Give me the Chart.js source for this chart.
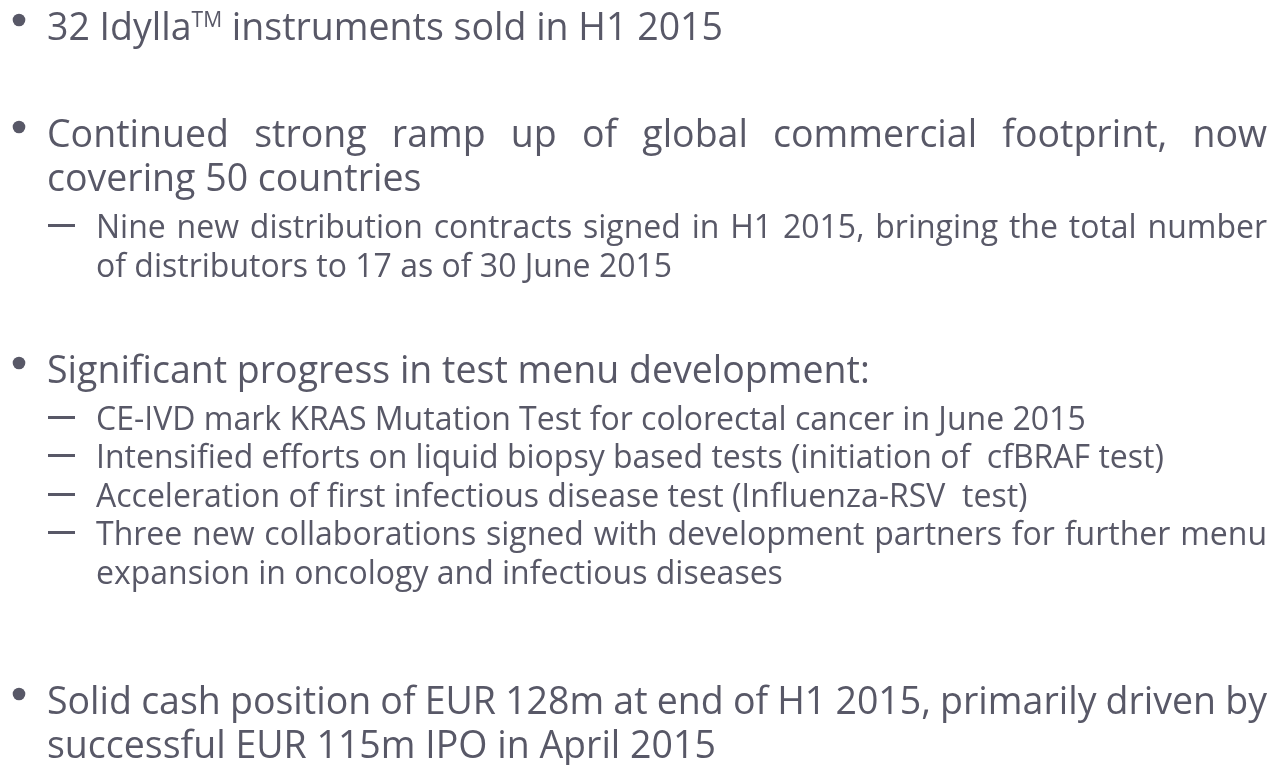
<!DOCTYPE html>
<html>
<head>
<meta charset="utf-8">
<script src="https://cdn.jsdelivr.net/npm/chart.js@4/dist/chart.umd.min.js"></script>
<style>
html,body{margin:0;padding:0;background:#fff;}
#c{display:block;}
</style>
</head>
<body>
<canvas id="c" width="1276" height="765"></canvas>
<script>
// Slide text content (level 1 = bullet, level 2 = dash), lines as wrapped in the reference
const bulletLevels = [1, 1, 2, 1, 2, 2, 2, 2, 1];
const bulletLines = [
  [["32 Idylla", "TM", " instruments sold in H1 2015"]],
  ["Continued strong ramp up of global commercial footprint, now", "covering 50 countries"],
  ["Nine new distribution contracts signed in H1 2015, bringing the total number", "of distributors to 17 as of 30 June 2015"],
  ["Significant progress in test menu development:"],
  ["CE-IVD mark KRAS Mutation Test for colorectal cancer in June 2015"],
  ["Intensified efforts on liquid biopsy based tests (initiation of  cfBRAF test)"],
  ["Acceleration of first infectious disease test (Influenza-RSV  test)"],
  ["Three new collaborations signed with development partners for further menu", "expansion in oncology and infectious diseases"],
  ["Solid cash position of EUR 128m at end of H1 2015, primarily driven by", "successful EUR 115m IPO in April 2015"]
];
const bulletBaselines = [40, 147, 238, 383, 430, 468, 507, 545, 714];

const COLOR = '#585867';
const FONT = '"Open Sans", "DejaVu Sans", sans-serif';
const MAIN = 37.5, SUB = 32, SUP = 21;
const MAIN_LH = 44, SUB_LH = 39;
const RIGHT = 1267;

function drawJustified(ctx, text, x, y, width, justify) {
  if (!justify) { ctx.fillText(text, x, y); return; }
  const words = text.split(' ').filter(w => w.length);
  const total = words.reduce((s, w) => s + ctx.measureText(w).width, 0);
  const gap = (width - total) / (words.length - 1);
  let cx = x;
  words.forEach(w => { ctx.fillText(w, cx, y); cx += ctx.measureText(w).width + gap; });
}

const textPlugin = {
  id: 'slideText',
  afterDraw(chart) {
    const ctx = chart.ctx;
    ctx.save();
    ctx.fillStyle = COLOR;
    ctx.strokeStyle = COLOR;
    ctx.textBaseline = 'alphabetic';
    bulletLines.forEach((lines, i) => {
      const lvl = bulletLevels[i];
      const base = bulletBaselines[i];
      const size = lvl === 1 ? MAIN : SUB;
      const lh = lvl === 1 ? MAIN_LH : SUB_LH;
      const tx = lvl === 1 ? 47 : 96;
      // marker
      if (lvl === 1) {
        ctx.beginPath();
        ctx.arc(19, base - 20, 6.3, 0, Math.PI * 2);
        ctx.fill();
      } else {
        ctx.fillRect(48, base - 14, 27, 3);
      }
      lines.forEach((ln, j) => {
        const y = base + j * lh;
        if (Array.isArray(ln)) {
          let cx = tx;
          ln.forEach((part, k) => {
            if (k === 1) {
              ctx.font = SUP + 'px ' + FONT;
              ctx.fillText(part, cx, y - 13);
            } else {
              ctx.font = size + 'px ' + FONT;
              ctx.fillText(part, cx, y);
            }
            cx += ctx.measureText(part).width;
          });
        } else {
          ctx.font = size + 'px ' + FONT;
          const justify = j < lines.length - 1;
          drawJustified(ctx, ln, tx, y, RIGHT - tx, justify);
        }
      });
    });
    ctx.restore();
  }
};

new Chart(document.getElementById('c'), {
  type: 'line',
  data: { labels: [], datasets: [] },
  options: {
    responsive: false,
    animation: false,
    events: [],
    layout: { padding: 0 },
    scales: { x: { display: false }, y: { display: false } },
    plugins: { legend: { display: false }, tooltip: { enabled: false } }
  },
  plugins: [textPlugin]
});
</script>
</body>
</html>
